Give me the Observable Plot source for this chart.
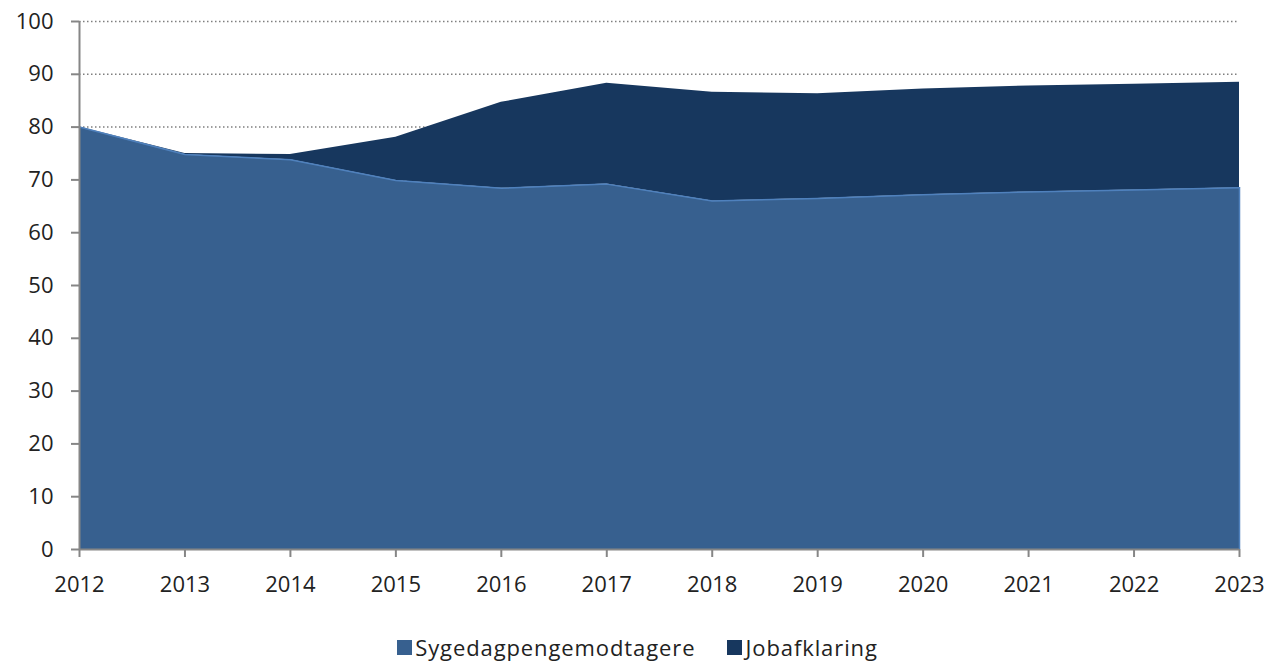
<!DOCTYPE html>
<html>
<head>
<meta charset="utf-8">
<script src="https://cdn.jsdelivr.net/npm/d3@7"></script>
<script src="https://cdn.jsdelivr.net/npm/@observablehq/plot@0.6"></script>
<style>
  html, body { margin: 0; background: #fff; font-family: "Open Sans", sans-serif; }
  body { min-height: 662px; }
  #chart svg { display: block; }
  .legend { display: flex; justify-content: center; gap: 32px; font-size: 22px; letter-spacing: 0.9px; color: #222; margin-top: 32px; margin-left: 4px; line-height: 30px; height: 30px; }
  .legend span.item { display: flex; align-items: center; }
  .legend span.sw { display: inline-block; width: 15px; height: 15px; margin-right: 3px; }
</style>
</head>
<body>
<div id="chart"></div>
<div class="legend" id="legend"></div>
<script>
const years = [2012, 2013, 2014, 2015, 2016, 2017, 2018, 2019, 2020, 2021, 2022, 2023];
const sygedagpenge = [80.0, 74.8, 73.8, 69.9, 68.4, 69.2, 66.0, 66.5, 67.2, 67.7, 68.1, 68.5];
const jobafklaring = [0.0, 0.2, 1.0, 8.2, 16.3, 19.1, 20.6, 19.8, 20.0, 20.1, 20.0, 20.0];
const seriesNames = ["Sygedagpengemodtagere", "Jobafklaring"];
const seriesColors = ["#37608F", "#17375E"];
const yTicks = [0, 10, 20, 30, 40, 50, 60, 70, 80, 90, 100];

const data = [];
years.forEach((yr, i) => {
  data.push({year: yr, series: seriesNames[0], value: sygedagpenge[i]});
  data.push({year: yr, series: seriesNames[1], value: jobafklaring[i]});
});
const bottom = years.map((yr, i) => ({year: yr, value: sygedagpenge[i]}));

const chart = Plot.plot({
  width: 1271,
  height: 600,
  marginLeft: 79,
  marginRight: 32,
  marginTop: 21,
  marginBottom: 51,
  style: {fontFamily: "'Open Sans', sans-serif", fontSize: "22px", color: "#222"},
  x: {domain: [2012, 2023], ticks: years, tickFormat: d => String(d)},
  y: {domain: [0, 100], ticks: yTicks},
  color: {domain: seriesNames, range: seriesColors},
  marks: [
    Plot.ruleY(yTicks.filter(d => d > 0), {stroke: "#7f7f7f", strokeWidth: 1.5, strokeDasharray: "1.5,2.5", strokeOpacity: 1}),
    Plot.areaY(data, {x: "year", y: "value", fill: "series", order: seriesNames, curve: "linear"}),
    Plot.lineY(bottom, {x: "year", y: "value", stroke: "#4F81BD", strokeWidth: 1.5}),
    Plot.ruleX([2023], {y1: 0, y2: sygedagpenge[sygedagpenge.length - 1], stroke: "#4F81BD", strokeWidth: 1.5}),
    Plot.ruleX([2012], {stroke: "#868686", strokeWidth: 2}),
    Plot.ruleY([0], {stroke: "#868686", strokeWidth: 2}),
    Plot.axisY({ticks: yTicks, tickSize: 8, tickPadding: 18, stroke: "#868686", label: null, fill: "#222"}),
    Plot.axisX({ticks: years, tickSize: 8, tickPadding: 19, stroke: "#868686", label: null, tickFormat: d => String(d), fill: "#222"})
  ]
});
chart.querySelectorAll("[aria-label='y-axis tick'] path, [aria-label='x-axis tick'] path").forEach(p => p.setAttribute("stroke-width", 2));
document.getElementById("chart").appendChild(chart);

const legend = document.getElementById("legend");
seriesNames.forEach((name, i) => {
  const item = document.createElement("span");
  item.className = "item";
  const sw = document.createElement("span");
  sw.className = "sw";
  sw.style.background = seriesColors[i];
  item.appendChild(sw);
  item.appendChild(document.createTextNode(name));
  legend.appendChild(item);
});
</script>
</body>
</html>
